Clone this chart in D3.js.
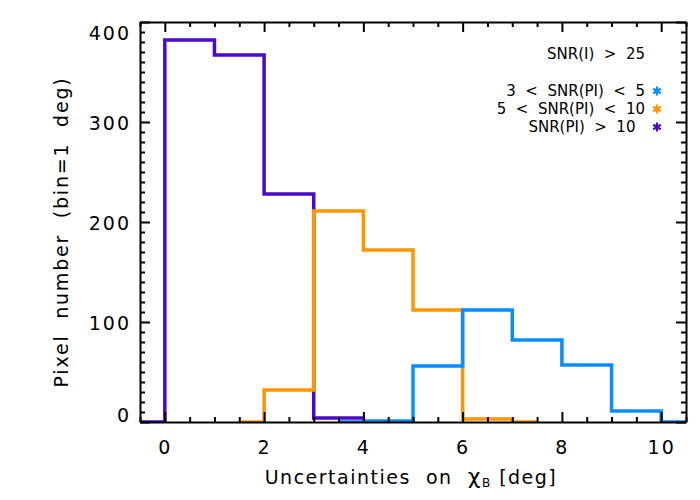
<!DOCTYPE html>
<html>
<head>
<meta charset="utf-8">
<script src="https://cdn.jsdelivr.net/npm/d3@7"></script>
<style>
  html, body { margin: 0; padding: 0; background: #fff; }
  svg { display: block; }
  text { font-family: "DejaVu Sans", sans-serif; fill: #000; white-space: pre; }
</style>
</head>
<body>
<svg id="chart" width="700" height="500"></svg>
<script>
// ---- data (bin centres, IDL psym=10 style histograms) ----
const xPurple = [-0.5, 0.5, 1.5, 2.5, 3.5, 4.5];
const yPurple = [0, 382, 367, 228, 4, 0];
const xOrange = [1.5, 2.5, 3.5, 4.5, 5.5, 6.5, 7.5];
const yOrange = [0, 32, 211, 172, 112, 3, 0];
const xBlue = [3.5, 4.5, 5.5, 6.5, 7.5, 8.5, 9.5, 10.5];
const yBlue = [0, 1, 56, 112, 82, 57, 11, 0];

const xTicks = [0, 2, 4, 6, 8, 10];
const yTicks = [0, 100, 200, 300, 400];
const legendHeader = "SNR(I)  >  25";
const legendLabels = ["3  <  SNR(PI)  <  5", "5  <  SNR(PI)  <  10", "SNR(PI)  >  10  "];
const colors = ["#0a8cff", "#ff9600", "#4b0ac8"];

const svg = d3.select("#chart");
const L = 140, R = 686, T = 22, B = 422;
const x = d3.scaleLinear().domain([-0.5, 10.5]).range([L, R]);
const y = d3.scaleLinear().domain([0, 400]).range([B, T]);

const plot = svg.append("g");
svg.append("clipPath").attr("id", "clip").append("rect")
  .attr("x", L).attr("y", T).attr("width", R - L).attr("height", B - T);

const line = d3.line().x(d => x(d[0])).y(d => y(d[1])).curve(d3.curveStep);
const series = [
  [xPurple, yPurple, colors[2]],
  [xOrange, yOrange, colors[1]],
  [xBlue, yBlue, colors[0]]
];
series.forEach(([xs, ys, c]) => {
  plot.append("path")
    .attr("clip-path", "url(#clip)")
    .attr("d", line(xs.map((v, i) => [v, ys[i]])))
    .attr("fill", "none").attr("stroke", c).attr("stroke-width", 3.5);
});

// ---- axes (ticks inward, on all four sides) ----
const xMinor = d3.range(-0.5, 10.51, 0.5).filter(v => v % 2 !== 0);
const yMinor = d3.range(0, 401, 10).filter(v => v % 100 !== 0);
const fs = 19;

function styleAxis(g) {
  g.select(".domain").attr("stroke", "#000").attr("stroke-width", 2);
  g.selectAll(".tick line").attr("stroke", "#000").attr("stroke-width", 2);
  g.selectAll("text").style("font-size", fs + "px").style("font-family", "DejaVu Sans")
    .attr("letter-spacing", "2px");
}

// bottom
const gB = svg.append("g").attr("transform", `translate(0,${B})`)
  .call(d3.axisBottom(x).tickValues(xTicks).tickSizeInner(-10).tickSizeOuter(0).tickPadding(19).tickFormat(d3.format("d")));
styleAxis(gB);
svg.append("g").attr("transform", `translate(0,${B})`)
  .call(d3.axisBottom(x).tickValues(xMinor).tickSizeInner(-5).tickSizeOuter(0).tickFormat(""))
  .call(g => { g.select(".domain").remove(); g.selectAll("line").attr("stroke", "#000").attr("stroke-width", 2); });
// top
const gT = svg.append("g").attr("transform", `translate(0,${T})`)
  .call(d3.axisTop(x).tickValues(xTicks).tickSizeInner(-10).tickSizeOuter(0).tickFormat(""));
styleAxis(gT);
svg.append("g").attr("transform", `translate(0,${T})`)
  .call(d3.axisTop(x).tickValues(xMinor).tickSizeInner(-5).tickSizeOuter(0).tickFormat(""))
  .call(g => { g.select(".domain").remove(); g.selectAll("line").attr("stroke", "#000").attr("stroke-width", 2); });
// left
const gL = svg.append("g").attr("transform", `translate(${L},0)`)
  .call(d3.axisLeft(y).tickValues(yTicks).tickSizeInner(-10).tickSizeOuter(0).tickPadding(9).tickFormat(d3.format("d")));
styleAxis(gL);
gL.selectAll(".tick text").attr("dy", d => d === 400 ? "0.9em" : (d === 0 ? "-0.02em" : "0.4em"));
svg.append("g").attr("transform", `translate(${L},0)`)
  .call(d3.axisLeft(y).tickValues(yMinor).tickSizeInner(-5).tickSizeOuter(0).tickFormat(""))
  .call(g => { g.select(".domain").remove(); g.selectAll("line").attr("stroke", "#000").attr("stroke-width", 2); });
// right
const gR = svg.append("g").attr("transform", `translate(${R},0)`)
  .call(d3.axisRight(y).tickValues(yTicks).tickSizeInner(-10).tickSizeOuter(0).tickFormat(""));
styleAxis(gR);
svg.append("g").attr("transform", `translate(${R},0)`)
  .call(d3.axisRight(y).tickValues(yMinor).tickSizeInner(-5).tickSizeOuter(0).tickFormat(""))
  .call(g => { g.select(".domain").remove(); g.selectAll("line").attr("stroke", "#000").attr("stroke-width", 2); });

// ---- axis titles ----
const xt = svg.append("text").attr("x", 411).attr("y", 484).attr("text-anchor", "middle")
  .style("font-size", fs + "px").attr("letter-spacing", "1.5px");
xt.append("tspan").text("Uncertainties  on  ");
xt.append("tspan").text("χ").style("font-size", "22px");
xt.append("tspan").text("B").style("font-size", "12px").attr("dy", 3);
xt.append("tspan").text(" [deg]").attr("dy", -3);

svg.append("text").attr("transform", "translate(68,232) rotate(-90)")
  .attr("text-anchor", "middle").style("font-size", fs + "px").attr("letter-spacing", "1.8px")
  .text("Pixel  number  (bin=1  deg)");

// ---- legend ----
svg.append("text").attr("x", 645).attr("y", 59).attr("text-anchor", "end")
  .style("font-size", "15px").text(legendHeader);
const lg = svg.append("g");
legendLabels.forEach((t, i) => {
  const yy = 91 + i * 18;
  lg.append("text").attr("x", 645).attr("y", yy + 5).attr("text-anchor", "end")
    .style("font-size", "15px").text(t);
  lg.append("path").attr("transform", `translate(657,${yy})`)
    .attr("d", d3.symbol(d3.symbolAsterisk, 55)())
    .attr("fill", "none").attr("stroke", colors[i]).attr("stroke-width", 2.2);
});
</script>
</body>
</html>
